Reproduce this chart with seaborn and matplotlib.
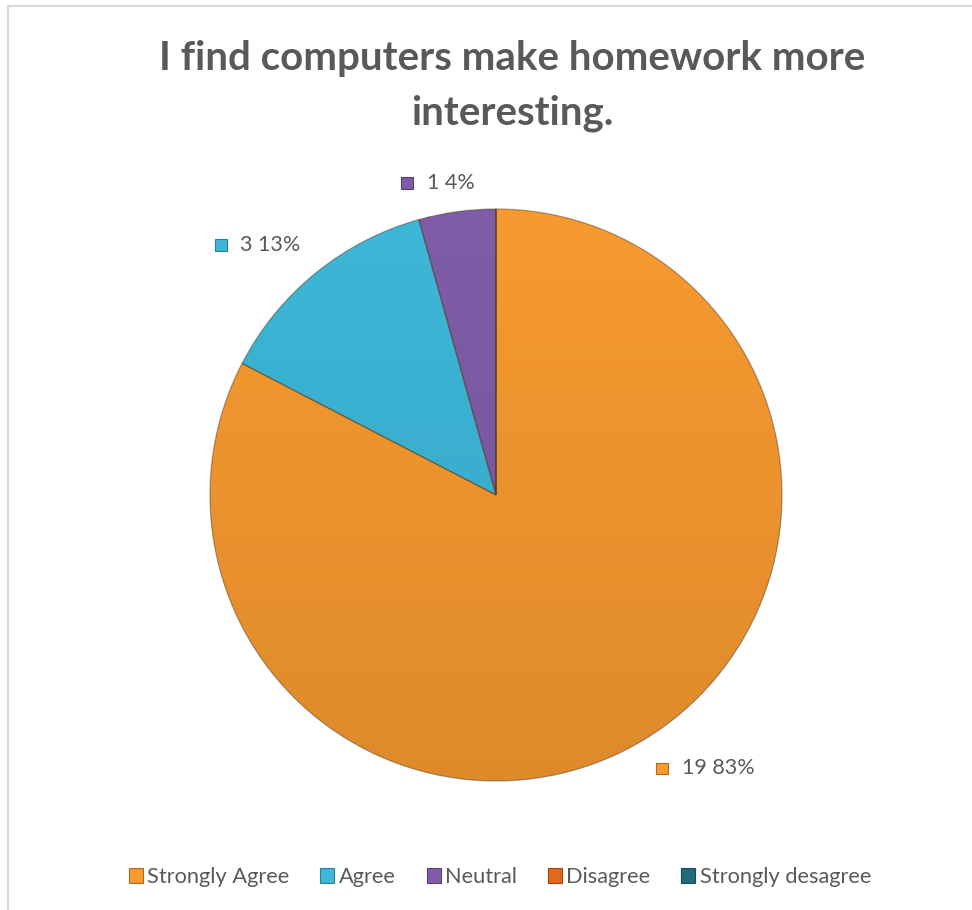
import numpy as np
import matplotlib
matplotlib.use("Agg")
import matplotlib.pyplot as plt
import seaborn as sns
from matplotlib.patches import Rectangle, Patch
from matplotlib.offsetbox import AnnotationBbox, HPacker, DrawingArea, TextArea
from matplotlib.colors import to_rgb

# Survey answers
categories = ["Strongly Agree", "Agree", "Neutral", "Disagree", "Strongly desagree"]
counts = [19, 3, 1, 0, 0]
title = "I find computers make homework more\ninteresting."
colors = ["#F79A30", "#3DB7D8", "#7F5DA9", "#E0691C", "#1F6B7C"]

sns.set_theme(style="white")
plt.rcParams["font.family"] = ["Lato", "DejaVu Sans"]

palette = sns.color_palette(colors)
text_grey = "#595959"

W, H = 972, 910
fig = plt.figure(figsize=(W / 100, H / 100), dpi=100)
fig.patch.set_facecolor("white")

# chart frame
fig.add_artist(Rectangle((8 / W, -0.1), 1.2, (1 - 6 / H) + 0.1,
                         transform=fig.transFigure, fill=False,
                         edgecolor="#D9D9D9", linewidth=1.5))

cx, cy, R = 496, 495, 286
ax = fig.add_axes([(cx - R) / W, (H - cy - R) / H, 2 * R / W, 2 * R / H])

wedges, _ = ax.pie(counts, colors=palette, startangle=90, counterclock=False,
                   radius=1,
                   wedgeprops=dict(edgecolor=(0.30, 0.22, 0.12, 0.45), linewidth=0.9))

# vertical shading inside each slice
for w, col, c in zip(wedges, palette, counts):
    if c == 0:
        continue
    base = np.array(to_rgb(col))
    shade = np.linspace(1.0, 0.90, 256)[:, None, None]
    grad = np.clip(base[None, None, :] * shade, 0, 1)
    im = ax.imshow(grad, extent=(-1, 1, -1, 1), origin="upper",
                   aspect="auto", zorder=w.get_zorder() - 0.5,
                   interpolation="bilinear")
    im.set_clip_path(w)
    w.set_facecolor("none")

ax.set_xlim(-1, 1)
ax.set_ylim(-1, 1)
ax.set_aspect("equal")
ax.axis("off")

# data labels: value and percentage beside each slice
total = sum(counts)
cum = 0
for c, col in zip(counts, palette):
    if c > 0:
        mid = np.deg2rad(90 - 360 * (cum + c / 2) / total)
        pct = round(100 * c / total)
        da = DrawingArea(8.5, 8.5, 0, 0)
        edge = tuple(np.array(to_rgb(col)) * 0.7)
        da.add_artist(Rectangle((0, 0), 8.5, 8.5, facecolor=col, edgecolor=edge, linewidth=0.8))
        ta = TextArea(f"{c} {pct}%", textprops=dict(color=text_grey, fontsize=15.5))
        pack = HPacker(children=[da, ta], align="center", pad=0, sep=10)
        r = 1.06 + 0.035 * abs(np.cos(mid))
        xa = 0.5 - 0.5 * np.clip(3.4 * np.cos(mid), -1, 1)
        ya = 0.5 - 0.5 * np.clip(3.4 * np.sin(mid), -1, 1)
        ab = AnnotationBbox(pack, (r * np.cos(mid), r * np.sin(mid)),
                            xycoords="data", box_alignment=(xa, ya),
                            frameon=False, pad=0, annotation_clip=False)
        ax.add_artist(ab)
    cum += c

fig.text(512 / W, 1 - 40 / H, title, ha="center", va="top", fontsize=29,
         fontweight="bold", color=text_grey, linespacing=1.6)

handles = [Patch(facecolor=c, edgecolor=tuple(np.array(to_rgb(c)) * 0.7), linewidth=0.8)
           for c in palette]
fig.legend(handles, categories, loc="center", bbox_to_anchor=(500 / W, 1 - 877 / H),
           ncol=5, frameon=False, fontsize=15.7, handlelength=0.64, handleheight=0.64,
           handletextpad=0.2, columnspacing=1.42, labelcolor=text_grey)

fig.savefig("out.png", dpi=100, facecolor="white")
